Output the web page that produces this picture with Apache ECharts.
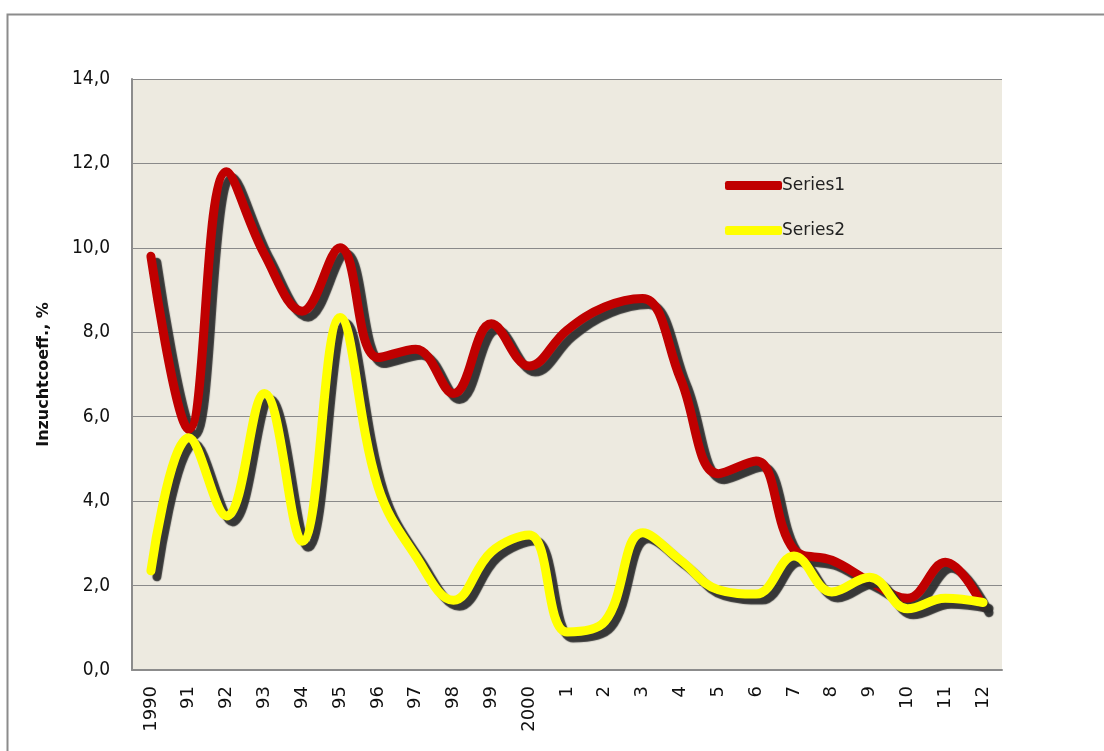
<!DOCTYPE html>
<html>
<head>
<meta charset="utf-8">
<title>Inzuchtcoeff.</title>
<script src="https://cdn.jsdelivr.net/npm/echarts@6/dist/echarts.min.js"></script>
<style>
  html, body { margin: 0; padding: 0; background: #fff; }
  #chart { width: 1104px; height: 751px; }
</style>
</head>
<body>
<div id="chart"></div>
<script>
// jaren: 1990 .. 2012, as labelled on the x axis
var categories = ["1990", "91", "92", "93", "94", "95", "96", "97", "98", "99", "2000",
  "1", "2", "3", "4", "5", "6", "7", "8", "9", "10", "11", "12"];
var series1 = [9.8, 5.7, 11.8, 9.85, 8.5, 10.0, 7.4, 7.6, 6.55, 8.2, 7.2,
  8.05, 8.6, 8.8, 6.9, 4.65, 4.95, 2.85, 2.6, 2.1, 1.7, 2.55, 1.5];
var series2 = [2.35, 5.5, 3.65, 6.55, 3.05, 8.35, 4.35, 2.7, 1.65, 2.8, 3.2,
  0.9, 1.15, 3.25, 2.6, 1.9, 1.8, 2.7, 1.85, 2.2, 1.45, 1.7, 1.6];
var yTicks = [0, 2, 4, 6, 8, 10, 12, 14];

var chart = echarts.init(document.getElementById("chart"));

function lineSeries(name, values, color) {
  return {
    name: name,
    type: "line",
    data: values,
    smooth: 0.4,
    symbol: "none",
    lineStyle: {
      color: color,
      width: 9,
      cap: "round",
      join: "round",
      shadowColor: "rgba(45, 45, 45, 0.95)",
      shadowBlur: 1,
      shadowOffsetX: 6,
      shadowOffsetY: 6
    },
    itemStyle: { color: color }
  };
}

var option = {
  animation: false,
  backgroundColor: "#ffffff",
  graphic: [{
    type: "rect",
    left: 5,
    top: 12,
    shape: { width: 1110, height: 800 },
    style: { fill: "none", stroke: "#8c8c8c", lineWidth: 2 },
    silent: true
  }],
  grid: {
    left: 132,
    right: 102,
    top: 79,
    bottom: 81,
    outerBoundsMode: "none",
    containLabel: false,
    show: true,
    backgroundColor: "#edeae0",
    borderWidth: 0
  },
  legend: {
    orient: "vertical",
    left: 720,
    top: 172,
    itemWidth: 57,
    itemHeight: 9,
    itemGap: 28,
    icon: "roundRect",
    data: [
      { name: "Series1", itemStyle: { color: "#c00000" } },
      { name: "Series2", itemStyle: { color: "#ffff00" } }
    ],
    textStyle: {
      fontFamily: "DejaVu Sans",
      fontSize: 17,
      color: "#222",
      padding: [0, 0, 0, -5]
    }
  },
  xAxis: {
    type: "category",
    data: categories,
    boundaryGap: true,
    axisLine: { show: true, lineStyle: { color: "#8c8c8c", width: 2 } },
    axisTick: { show: false },
    axisLabel: {
      rotate: 90,
      interval: 0,
      margin: 16,
      fontFamily: "DejaVu Sans",
      fontSize: 18,
      color: "#111"
    },
    splitLine: { show: false }
  },
  yAxis: {
    type: "value",
    min: yTicks[0],
    max: yTicks[yTicks.length - 1],
    interval: 2,
    name: "Inzuchtcoeff., %",
    nameLocation: "middle",
    nameGap: 80,
    nameRotate: 90,
    nameTextStyle: {
      fontFamily: "DejaVu Sans",
      fontWeight: "bold",
      fontSize: 16,
      color: "#111"
    },
    axisLine: { show: true, lineStyle: { color: "#8c8c8c", width: 2 } },
    axisTick: { show: false },
    axisLabel: {
      margin: 22,
      fontFamily: "Liberation Sans Narrow, DejaVu Sans Condensed, Liberation Sans",
      fontSize: 19,
      color: "#111",
      formatter: function (v) { return v.toFixed(1).replace(".", ","); }
    },
    splitLine: { show: true, lineStyle: { color: "#8a8a8a", width: 1 } }
  },
  series: [
    lineSeries("Series1", series1, "#c00000"),
    lineSeries("Series2", series2, "#ffff00")
  ]
};

chart.setOption(option);
</script>
</body>
</html>
